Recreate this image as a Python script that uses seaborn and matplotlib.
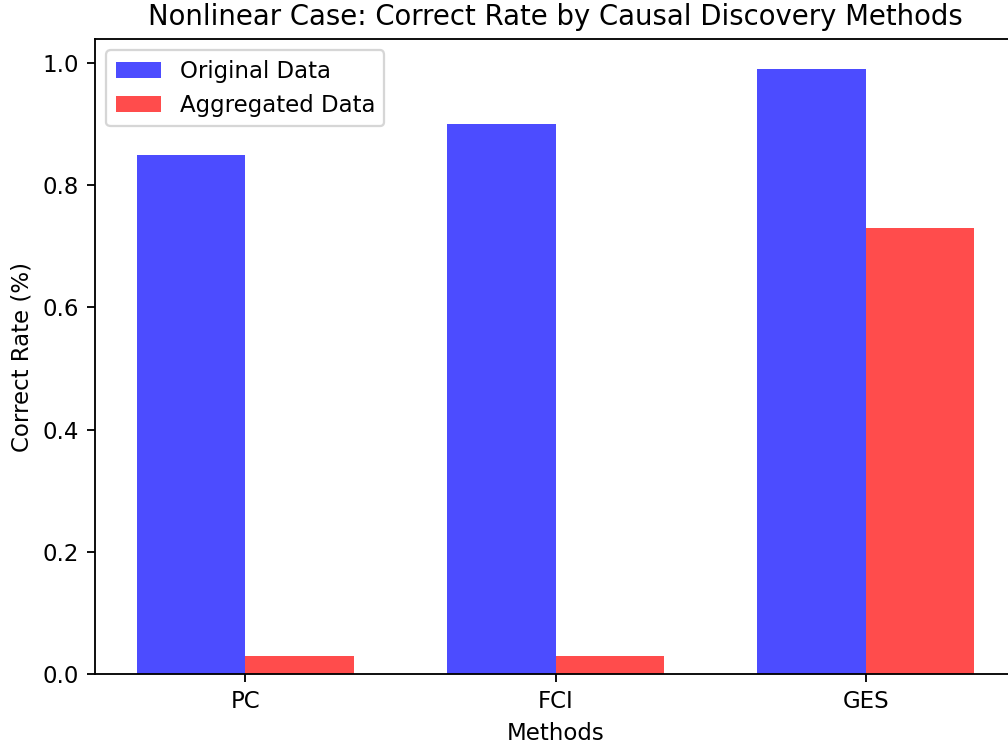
import pandas as pd
import matplotlib.pyplot as plt
import seaborn as sns

# Values
methods = ['PC', 'FCI', 'GES']
original_rate = [0.85, 0.90, 0.99]
aggregated_rate = [0.03, 0.03, 0.73]

df = pd.DataFrame({
    'Methods': methods * 2,
    'Rate': original_rate + aggregated_rate,
    'Data': ['Original Data'] * 3 + ['Aggregated Data'] * 3,
})

DPI = 165
fig = plt.figure(figsize=(1008 / DPI, 746 / DPI), dpi=DPI)
# axes run past the right edge, as in the reference
ax = fig.add_axes([95 / 1008, 72 / 746, 921 / 1008, 635 / 746])

sns.barplot(
    data=df, x='Methods', y='Rate', hue='Data',
    palette={'Original Data': 'blue', 'Aggregated Data': 'red'},
    alpha=0.7, saturation=1, width=0.7, gap=0, ax=ax,
)

ax.set_xlim(-0.485, 2.485)
ax.set_ylim(0, 0.99 * 1.05)
ax.set_xlabel('Methods')
ax.set_ylabel('Correct Rate (%)')
ax.set_title('Nonlinear Case: Correct Rate by Causal Discovery Methods')
ax.legend(loc='upper left')

fig.savefig('out.png', dpi=DPI)
